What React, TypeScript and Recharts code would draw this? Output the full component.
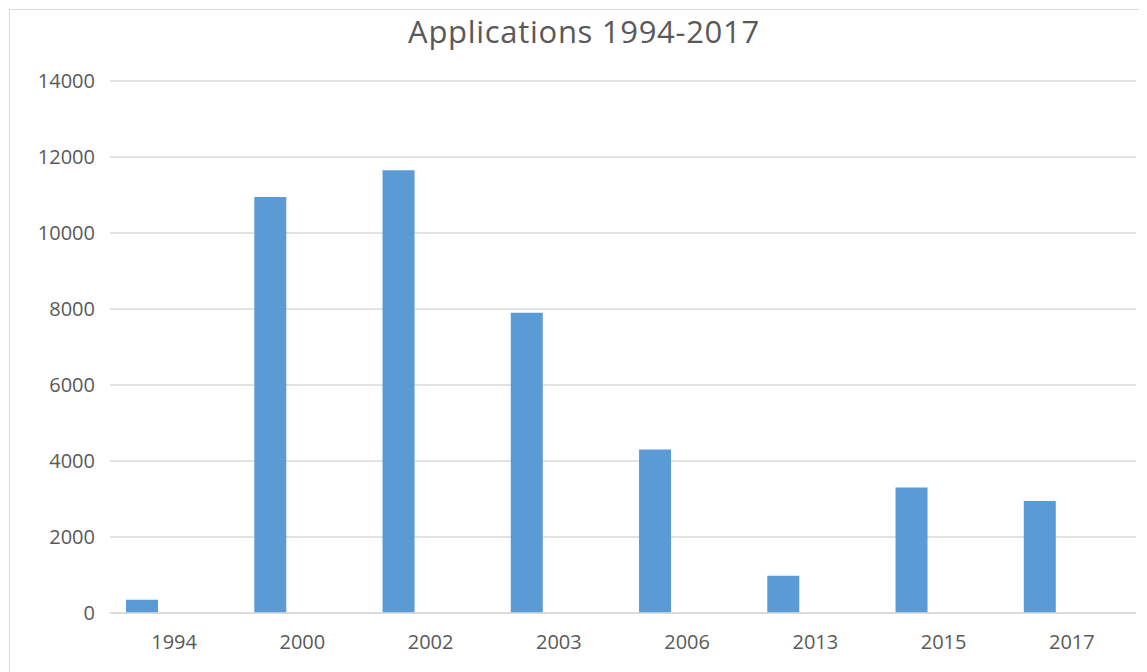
import { BarChart, Bar, XAxis, YAxis, CartesianGrid } from 'recharts';

const years = ['1994', '2000', '2002', '2003', '2006', '2013', '2015', '2017'];
const applications = [350, 10950, 11650, 7900, 4300, 980, 3300, 2950];
// the source sheet has two more series with no values, so bars sit left of each year
const series2 = [null, null, null, null, null, null, null, null];
const series3 = [null, null, null, null, null, null, null, null];
const yTicks = [0, 2000, 4000, 6000, 8000, 10000, 12000, 14000];

const data = years.map((year, i) => ({
  year,
  applications: applications[i],
  series2: series2[i],
  series3: series3[i],
}));

const FONT = '"Open Sans", sans-serif';
const TEXT = '#595959';
const GRID = '#d9d9d9';

export default function App() {
  return (
    <div style={{ position: 'relative', width: 1139, height: 664, fontFamily: FONT }}>
      <div
        style={{
          position: 'absolute',
          left: 1,
          top: 1,
          right: 0,
          bottom: 0,
          borderTop: `1.5px solid ${GRID}`,
          borderLeft: `1.5px solid ${GRID}`,
        }}
      />
      <div
        style={{
          position: 'absolute',
          left: 0,
          top: 8,
          width: 1152,
          textAlign: 'center',
          fontSize: 31,
          lineHeight: '30px',
          letterSpacing: 0.7,
          color: TEXT,
        }}
      >
        Applications 1994-2017
      </div>
      <BarChart
        width={1139}
        height={664}
        data={data}
        margin={{ top: 73, right: 11, bottom: 0, left: 0 }}
        barCategoryGap='12.5%'
        barGap={0}
      >
        <CartesianGrid vertical={false} stroke={GRID} strokeWidth={1.5} />
        <XAxis
          dataKey='year'
          height={59}
          tickLine={false}
          axisLine={{ stroke: GRID, strokeWidth: 1.5 }}
          tickMargin={16}
          tick={{ fill: TEXT, fontSize: 20, fontFamily: FONT }}
        />
        <YAxis
          width={102}
          domain={[0, 14000]}
          ticks={yTicks}
          interval={0}
          axisLine={false}
          tickLine={false}
          tickMargin={9}
          tick={{ fill: TEXT, fontSize: 20, fontFamily: FONT }}
        />
        <Bar dataKey='applications' fill='#5b9bd5' isAnimationActive={false} />
        <Bar dataKey='series2' fill='#ed7d31' isAnimationActive={false} />
        <Bar dataKey='series3' fill='#a5a5a5' isAnimationActive={false} />
      </BarChart>
    </div>
  );
}
